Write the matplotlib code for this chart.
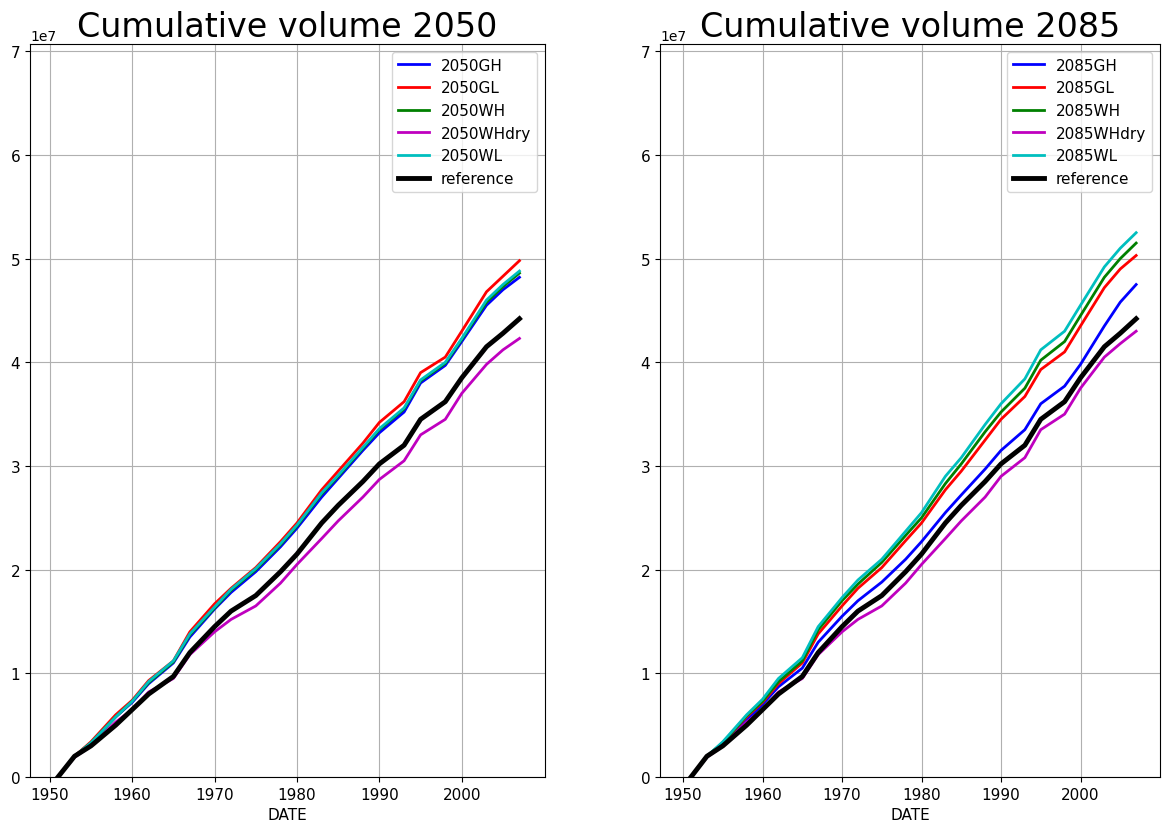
import numpy as np
import matplotlib.pyplot as plt

years = [1951, 1953, 1955, 1958, 1960, 1962, 1965, 1967, 1970, 1972, 1975, 1978, 1980, 1983, 1985, 1988, 1990, 1993, 1995, 1998, 2000, 2003, 2005, 2007]

reference = [0, 0.2, 0.3, 0.5, 0.65, 0.8, 0.97, 1.2, 1.45, 1.6, 1.75, 1.98, 2.15, 2.45, 2.62, 2.85, 3.02, 3.2, 3.45, 3.62, 3.85, 4.15, 4.28, 4.42]

left_series = {
    "2050GH": [0, 0.2, 0.33, 0.58, 0.72, 0.9, 1.1, 1.35, 1.62, 1.78, 1.98, 2.22, 2.4, 2.7, 2.88, 3.15, 3.32, 3.52, 3.8, 3.97, 4.2, 4.55, 4.7, 4.82],
    "2050GL": [0, 0.2, 0.34, 0.6, 0.74, 0.93, 1.12, 1.4, 1.67, 1.82, 2.02, 2.27, 2.45, 2.77, 2.95, 3.22, 3.42, 3.62, 3.9, 4.05, 4.3, 4.68, 4.83, 4.98],
    "2050WH": [0, 0.2, 0.33, 0.58, 0.73, 0.91, 1.11, 1.37, 1.63, 1.8, 2.0, 2.24, 2.42, 2.73, 2.9, 3.17, 3.35, 3.55, 3.82, 3.99, 4.22, 4.58, 4.73, 4.86],
    "2050WHdry": [0, 0.19, 0.3, 0.53, 0.65, 0.82, 0.95, 1.18, 1.4, 1.52, 1.65, 1.87, 2.05, 2.3, 2.47, 2.7, 2.87, 3.05, 3.3, 3.45, 3.7, 3.98, 4.12, 4.23],
    "2050WL": [0, 0.2, 0.33, 0.58, 0.73, 0.92, 1.12, 1.38, 1.64, 1.81, 2.01, 2.25, 2.43, 2.74, 2.91, 3.18, 3.36, 3.56, 3.83, 4.0, 4.23, 4.6, 4.75, 4.88],
}

right_series = {
    "2085GH": [0, 0.2, 0.32, 0.55, 0.7, 0.87, 1.05, 1.3, 1.55, 1.7, 1.88, 2.1, 2.27, 2.55, 2.72, 2.97, 3.15, 3.35, 3.6, 3.77, 3.98, 4.35, 4.58, 4.75],
    "2085GL": [0, 0.2, 0.33, 0.58, 0.72, 0.9, 1.1, 1.38, 1.65, 1.82, 2.02, 2.28, 2.45, 2.77, 2.95, 3.25, 3.45, 3.67, 3.93, 4.1, 4.35, 4.72, 4.9, 5.03],
    "2085WH": [0, 0.2, 0.33, 0.59, 0.73, 0.92, 1.12, 1.42, 1.7, 1.86, 2.07, 2.33, 2.5, 2.83, 3.02, 3.33, 3.52, 3.75, 4.02, 4.2, 4.45, 4.82, 5.0, 5.15],
    "2085WHdry": [0, 0.19, 0.3, 0.53, 0.65, 0.82, 0.95, 1.18, 1.4, 1.52, 1.65, 1.87, 2.05, 2.3, 2.47, 2.7, 2.9, 3.08, 3.35, 3.5, 3.75, 4.05, 4.18, 4.3],
    "2085WL": [0, 0.2, 0.34, 0.6, 0.75, 0.95, 1.15, 1.45, 1.73, 1.9, 2.1, 2.37, 2.55, 2.9, 3.08, 3.4, 3.6, 3.84, 4.12, 4.3, 4.55, 4.92, 5.1, 5.25],
}

colors = ["b", "r", "g", "m", "c"]


def draw(ax, series, title, xlim):
    for (name, vals), c in zip(series.items(), colors):
        ax.plot(years, np.array(vals) * 1e7, color=c, lw=2, label=name)
    ax.plot(years, np.array(reference) * 1e7, color="k", lw=3.5, label="reference")
    ax.set_xlim(*xlim)
    ax.set_ylim(0, 7.07e7)
    ax.set_xticks([1950, 1960, 1970, 1980, 1990, 2000])
    ax.set_xlabel("DATE", fontsize=11)
    ax.set_title(title, fontsize=24)
    ax.tick_params(labelsize=11)
    ax.grid(True)
    ax.legend(loc="upper right", fontsize=11)


fig = plt.figure(figsize=(11.64, 8.29), dpi=100)
ax1 = fig.add_axes([30 / 1164, 51 / 829, 515 / 1164, 733 / 829])
ax2 = fig.add_axes([660 / 1164, 51 / 829, 500 / 1164, 733 / 829])
draw(ax1, left_series, "Cumulative volume 2050", (1947.6, 2010.1))
draw(ax2, right_series, "Cumulative volume 2085", (1947.1, 2010.0))
fig.savefig("out.png", dpi=100)
